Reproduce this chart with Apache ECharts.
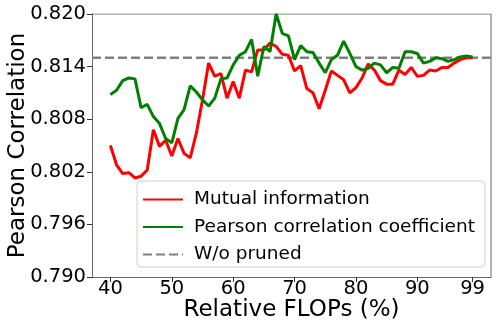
<!DOCTYPE html>
<html>
<head>
<meta charset="utf-8">
<script src="https://cdn.jsdelivr.net/npm/echarts@6/dist/echarts.min.js"></script>
<style>
  html, body { margin: 0; padding: 0; background: #fff; }
  #chart { width: 498px; height: 332px; }
</style>
</head>
<body>
<div id="chart"></div>
<script>
// relative FLOPs, 40 .. 99 step 1
const flops = []
for (let f = 40; f <= 99; f++) flops.push(f)

const mutualInfo = [
  0.8050, 0.8028, 0.8018, 0.8019, 0.8013, 0.8015, 0.8022, 0.8068, 0.8049, 0.8056,
  0.8038, 0.8058, 0.8041, 0.8036, 0.8064, 0.8102, 0.8144, 0.8129, 0.8132, 0.8104,
  0.8123, 0.8104, 0.8136, 0.8134, 0.8159, 0.8159, 0.8167, 0.8163, 0.8154, 0.8153,
  0.8135, 0.8141, 0.8115, 0.8110, 0.8092, 0.8113, 0.8135, 0.8130, 0.8125, 0.8110,
  0.8116, 0.8127, 0.8143, 0.8136, 0.8124, 0.8120, 0.8120, 0.8136, 0.8131, 0.8139,
  0.8129, 0.8130, 0.8136, 0.8135, 0.8139, 0.8139, 0.8144, 0.8148, 0.8150, 0.8150
]

const pearsonCoef = [
  0.8108, 0.8113, 0.8124, 0.8127, 0.8126, 0.8093, 0.8097, 0.8083, 0.8075, 0.8058,
  0.8053, 0.8081, 0.8091, 0.8118, 0.8111, 0.8102, 0.8095, 0.8104, 0.8126, 0.8127,
  0.8142, 0.8153, 0.8157, 0.8171, 0.8129, 0.8163, 0.8157, 0.8200, 0.8178, 0.8175,
  0.8148, 0.8164, 0.8157, 0.8156, 0.8144, 0.8133, 0.8148, 0.8153, 0.8169, 0.8155,
  0.8140, 0.8136, 0.8138, 0.8144, 0.8142, 0.8133, 0.8139, 0.8138, 0.8157, 0.8157,
  0.8155, 0.8144, 0.8146, 0.8150, 0.8149, 0.8146, 0.8148, 0.8151, 0.8152, 0.8151
]

// baseline without pruning
const unpruned = 0.815

const xTicks = [40, 50, 60, 70, 80, 90, 99]
const yTicks = [0.790, 0.796, 0.802, 0.808, 0.814, 0.820]

const X_MIN = 37, X_MAX = 102

const font = 'DejaVu Sans'
const spine = '#666'
const chart = echarts.init(document.getElementById('chart'))

const pair = (vals) => flops.map((f, i) => [f, vals[i]])

chart.setOption({
  animation: false,
  textStyle: { fontFamily: font },
  grid: { left: 92, right: 7, top: 14, bottom: 55, outerBoundsMode: 'none', containLabel: false },
  legend: {
    orient: 'vertical',
    left: 137,
    top: 181,
    width: 346,
    padding: [9, 10, 3, 5],
    itemWidth: 40,
    itemHeight: 14,
    itemGap: 8.5,
    itemStyle: { opacity: 0 },
    backgroundColor: 'rgba(255,255,255,0.85)',
    borderColor: '#d0d0d0',
    borderWidth: 1,
    borderRadius: 4,
    textStyle: { fontFamily: font, fontSize: 18.5, color: '#000', padding: [0, 0, 0, 6] },
    data: ['Mutual information', 'Pearson correlation coefficient', 'W/o pruned']
  },
  xAxis: {
    type: 'value',
    min: X_MIN,
    max: X_MAX,
    name: 'Relative FLOPs (%)',
    nameLocation: 'middle',
    nameGap: 22,
    nameMoveOverlap: false,
    nameTextStyle: { fontFamily: font, fontSize: 23, color: '#000' },
    axisLine: { show: true, onZero: false, lineStyle: { color: spine, width: 1 } },
    axisTick: { show: true, length: 5, customValues: xTicks, lineStyle: { color: '#333' } },
    axisLabel: { fontFamily: font, fontSize: 19.5, color: '#000', margin: 2, customValues: xTicks },
    splitLine: { show: false }
  },
  yAxis: {
    type: 'value',
    min: 0.790,
    max: 0.820,
    interval: 0.006,
    name: 'Pearson Correlation',
    nameLocation: 'middle',
    nameGap: 62,
    nameMoveOverlap: false,
    nameTextStyle: { fontFamily: font, fontSize: 23, color: '#000' },
    axisLine: { show: true, lineStyle: { color: spine, width: 1 } },
    axisTick: { show: true, length: 5, customValues: yTicks, lineStyle: { color: '#333' } },
    axisLabel: {
      fontFamily: font, fontSize: 19.5, color: '#000', margin: 6,
      customValues: yTicks,
      formatter: (v) => v.toFixed(3)
    },
    splitLine: { show: false }
  },
  series: [
    {
      name: 'Mutual information',
      type: 'line',
      symbol: 'none',
      data: pair(mutualInfo),
      lineStyle: { color: '#ff0000', width: 3 },
      itemStyle: { color: '#ff0000' },
      z: 3
    },
    {
      name: 'Pearson correlation coefficient',
      type: 'line',
      symbol: 'none',
      data: pair(pearsonCoef),
      lineStyle: { color: '#008000', width: 3 },
      itemStyle: { color: '#008000' },
      z: 4
    },
    {
      name: 'W/o pruned',
      type: 'line',
      symbol: 'none',
      data: [[X_MIN, unpruned], [X_MAX, unpruned]],
      lineStyle: { color: '#808080', width: 2.5, type: [9, 4] },
      itemStyle: { color: '#808080' },
      z: 2
    },
    {
      // right/top frame of the plot box
      type: 'line',
      symbol: 'none',
      silent: true,
      data: [[X_MIN, 0.820], [X_MAX, 0.820], [X_MAX, 0.790]],
      lineStyle: { color: spine, width: 1 },
      z: 1
    }
  ]
})

window.addEventListener('resize', () => chart.resize())
</script>
</body>
</html>
